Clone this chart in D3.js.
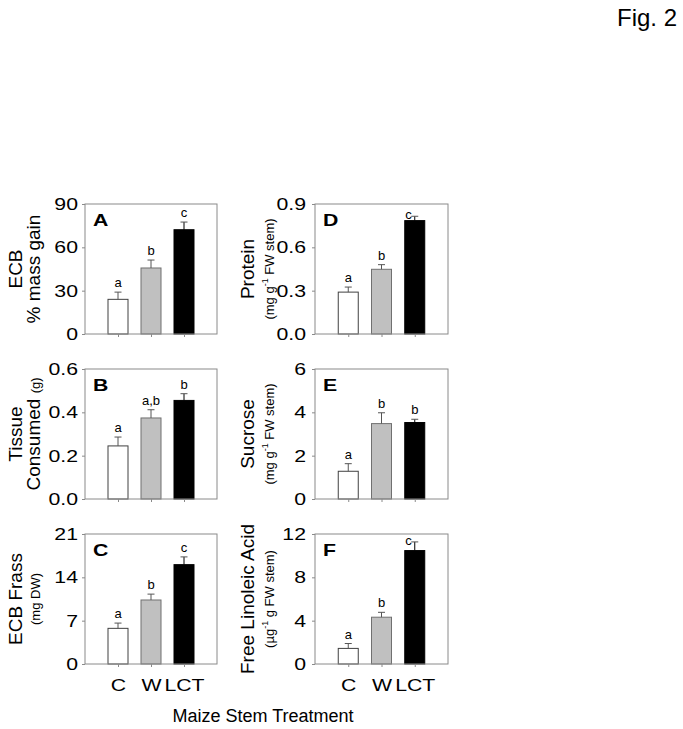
<!DOCTYPE html>
<html>
<head>
<meta charset="utf-8">
<script src="https://cdn.jsdelivr.net/npm/d3@7"></script>
<style>
  html, body { margin: 0; padding: 0; background: #fff; }
  svg { display: block; font-family: "Liberation Sans", Arial, sans-serif; }
</style>
</head>
<body>
<svg id="chart" width="683" height="729"></svg>
<script>
// ---------------- data ----------------
const categories = ["C", "W", "LCT"];

const massGain      = [24.0, 45.7, 72.2];
const massGainErr   = [5.0, 5.5, 5.3];
const massGainSig   = ["a", "b", "c"];
const massGainTicks = [0, 30, 60, 90];

const tissue        = [0.245, 0.374, 0.455];
const tissueErr     = [0.041, 0.038, 0.031];
const tissueSig     = ["a", "a,b", "b"];
const tissueTicks   = [0.0, 0.2, 0.4, 0.6];

const frass         = [5.76, 10.34, 16.05];
const frassErr      = [0.85, 0.95, 1.25];
const frassSig      = ["a", "b", "c"];
const frassTicks    = [0, 7, 14, 21];

const protein       = [0.29, 0.448, 0.785];
const proteinErr    = [0.035, 0.032, 0.03];
const proteinSig    = ["a", "b", "c"];
const proteinTicks  = [0.0, 0.3, 0.6, 0.9];

const sucrose       = [1.28, 3.48, 3.53];
const sucroseErr    = [0.35, 0.5, 0.15];
const sucroseSig    = ["a", "b", "b"];
const sucroseTicks  = [0, 2, 4, 6];

const linoleic      = [1.44, 4.32, 10.47];
const linoleicErr   = [0.45, 0.45, 0.8];
const linoleicSig   = ["a", "b", "c"];
const linoleicTicks = [0, 4, 8, 12];

const barFills   = ["#ffffff", "#c0c0c0", "#000000"];
const barStrokes = ["#404040", "#707070", "#000000"];

// ---------------- layout ----------------
const FONT = '"Liberation Sans", Arial, sans-serif';
const svg = d3.select("#chart");
const cols = [{x0: 85, x1: 217, labelX: -7}, {x0: 315, x1: 448, labelX: -9}];
const rows = [{y0: 204, y1: 334}, {y0: 369, y1: 499}, {y0: 534, y1: 664}];
const stretch = 1.25;

const panels = [
  {col: 0, row: 0, letter: "A", v: massGain, e: massGainErr, s: massGainSig, ticks: massGainTicks, fmt: d3.format("d"),
   title: [{text: "ECB", size: 19}], sub: [{text: "% mass gain", size: 19}]},
  {col: 0, row: 1, letter: "B", v: tissue, e: tissueErr, s: tissueSig, ticks: tissueTicks, fmt: d3.format(".1f"),
   title: [{text: "Tissue", size: 19}], sub: [{text: "Consumed ", size: 19}, {text: "(g)", size: 13}]},
  {col: 0, row: 2, letter: "C", v: frass, e: frassErr, s: frassSig, ticks: frassTicks, fmt: d3.format("d"),
   title: [{text: "ECB Frass", size: 19}], sub: [{text: "(mg DW)", size: 13}], xlabels: true},
  {col: 1, row: 0, letter: "D", v: protein, e: proteinErr, s: proteinSig, ticks: proteinTicks, fmt: d3.format(".1f"),
   title: [{text: "Protein", size: 19}], sub: [{text: "(mg g", size: 13}, {text: "-1", size: 9, sup: true}, {text: " FW stem)", size: 13}]},
  {col: 1, row: 1, letter: "E", v: sucrose, e: sucroseErr, s: sucroseSig, ticks: sucroseTicks, fmt: d3.format("d"),
   title: [{text: "Sucrose", size: 19}], sub: [{text: "(mg g", size: 13}, {text: "-1", size: 9, sup: true}, {text: " FW stem)", size: 13}]},
  {col: 1, row: 2, letter: "F", v: linoleic, e: linoleicErr, s: linoleicSig, ticks: linoleicTicks, fmt: d3.format("d"),
   title: [{text: "Free Linoleic Acid", size: 19}], sub: [{text: "(\u00b5g", size: 13}, {text: "-1", size: 9, sup: true}, {text: " g FW stem)", size: 13}], xlabels: true}
];

const frameColor = "#8a8a8a";

function addRich(sel, parts) {
  parts.forEach((p, i) => {
    const t = sel.append("tspan").attr("font-size", p.size).text(p.text);
    if (p.sup) t.attr("dy", -6);
    else if (i > 0 && parts[i - 1].sup) t.attr("dy", 6);
  });
}

panels.forEach(p => {
  const c = cols[p.col], r = rows[p.row];
  const x = d3.scalePoint().domain(categories).range([c.x0, c.x1]).padding(1);
  const y = d3.scaleLinear().domain([p.ticks[0], p.ticks[p.ticks.length - 1]]).range([r.y1, r.y0]);
  const g = svg.append("g");
  const bw = 20;

  // bars
  g.selectAll("rect.bar").data(p.v).join("rect")
    .attr("class", "bar")
    .attr("x", (d, i) => x(categories[i]) - bw / 2)
    .attr("y", d => y(d))
    .attr("width", bw)
    .attr("height", d => y(0) - y(d))
    .attr("fill", (d, i) => barFills[i])
    .attr("stroke", (d, i) => barStrokes[i])
    .attr("stroke-width", 1);

  // error bars (upward) and significance letters
  p.v.forEach((d, i) => {
    const cx = x(categories[i]);
    const top = y(d + p.e[i]);
    g.append("line").attr("x1", cx).attr("x2", cx).attr("y1", y(d)).attr("y2", top)
      .attr("stroke", i === 2 ? "#000" : "#555").attr("stroke-width", 1);
    g.append("line").attr("x1", cx - 3.5).attr("x2", cx + 3.5).attr("y1", top).attr("y2", top)
      .attr("stroke", "#555").attr("stroke-width", 1);
    let tx = cx, ty = top - 5, anchor = "middle";
    if (ty - 8 < r.y0) { tx = cx - 3; ty = top + 3; anchor = "end"; }
    g.append("text").attr("x", tx).attr("y", ty).attr("text-anchor", anchor)
      .attr("font-size", 13).attr("fill", "#000").text(p.s[i]);
  });

  // y axis
  const ya = d3.axisLeft(y).tickValues(p.ticks).tickFormat(p.fmt).tickSize(3);
  const yg = g.append("g").attr("transform", `translate(${c.x0},0)`).call(ya);
  yg.select(".domain").remove();
  yg.selectAll(".tick line").attr("stroke", frameColor);
  yg.selectAll(".tick text").attr("font-size", 17).attr("fill", "#000").attr("font-family", FONT)
    .attr("x", 0).attr("transform", `translate(${c.labelX},0) scale(${stretch},1)`);

  // x axis ticks
  const xa = d3.axisBottom(x).tickSize(3).tickFormat(p.xlabels ? (d => d) : "");
  const xg = g.append("g").attr("transform", `translate(0,${r.y1})`).call(xa);
  xg.select(".domain").remove();
  xg.selectAll(".tick line").attr("stroke", frameColor);
  xg.selectAll(".tick text").attr("font-size", 17).attr("fill", "#000").attr("font-family", FONT)
    .attr("y", 0).attr("dy", 0).attr("transform", `translate(0,27) scale(${stretch},1)`);

  // frame
  g.append("rect").attr("x", c.x0).attr("y", r.y0).attr("width", c.x1 - c.x0).attr("height", r.y1 - r.y0)
    .attr("fill", "none").attr("stroke", frameColor).attr("stroke-width", 1);

  // panel letter
  g.append("text").attr("transform", `translate(${c.x0 + 8},${r.y0 + 22}) scale(${stretch},1)`)
    .attr("font-size", 17).attr("font-weight", "bold").attr("fill", "#000").text(p.letter);

  // y titles
  const cy = (r.y0 + r.y1) / 2;
  const lx1 = p.col === 0 ? 22 : 254;
  const lx2 = p.col === 0 ? 40 : 274;
  const t1 = g.append("text").attr("transform", `translate(${lx1},${cy}) rotate(-90)`).attr("text-anchor", "middle").attr("fill", "#000");
  addRich(t1, p.title);
  const t2 = g.append("text").attr("transform", `translate(${lx2},${cy}) rotate(-90)`).attr("text-anchor", "middle").attr("fill", "#000");
  addRich(t2, p.sub);
});

// x axis title
svg.append("text").attr("x", 263).attr("y", 722).attr("text-anchor", "middle").attr("font-size", 18)
  .attr("fill", "#000").text("Maize Stem Treatment");

// figure number
svg.append("text").attr("x", 677).attr("y", 26).attr("text-anchor", "end").attr("font-size", 24)
  .attr("fill", "#000").text("Fig. 2");
</script>
</body>
</html>
